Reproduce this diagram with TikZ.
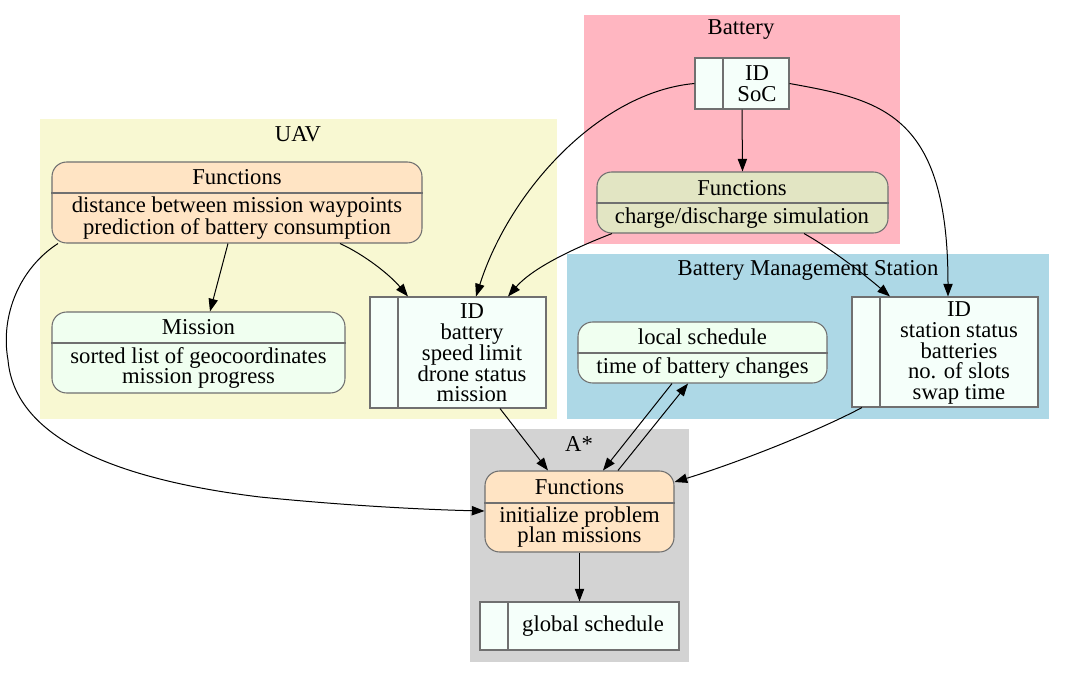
\documentclass[tikz,border=0pt]{standalone}
\usepackage{fontspec}
\setmainfont{Liberation Serif}
\usetikzlibrary{arrows.meta,fit}
\definecolor{clpink}{HTML}{FFB6C1}
\definecolor{clyellow}{HTML}{F8F8D2}
\definecolor{clblue}{HTML}{ADD8E6}
\definecolor{clgray}{HTML}{D3D3D3}
\definecolor{bisque}{HTML}{FFE4C4}
\definecolor{mint}{HTML}{F5FFFA}
\definecolor{honey}{HTML}{F0FFF0}
\definecolor{olivefill}{HTML}{E2E5C3}
\definecolor{bordergray}{HTML}{707070}
\begin{document}
\begin{tikzpicture}[x=0.75pt,y=-0.75pt,
  cluster/.style={draw=none,inner sep=0pt},
  rbox/.style={draw=bordergray,line width=0.8pt,rounded corners=11pt,inner sep=0pt},
  rec/.style={draw=bordergray,line width=0.8pt,fill=mint,inner sep=0pt},
  divider/.style={draw=bordergray,line width=0.8pt},
  txt/.style={font=\fontsize{17pt}{15.6pt}\selectfont,align=center,inner sep=0pt},
  conn/.style={line width=0.75pt,-{Triangle[length=9.5pt,width=7pt]}}]
\useasboundingbox (0,0) rectangle (1065,678);

% clusters
\node[cluster,fill=clpink,fit={(584,15) (900,244)}] (clbat) {};
\node[cluster,fill=clyellow,fit={(40,119) (557,419)}] (cluav) {};
\node[cluster,fill=clblue,fit={(567,254) (1049,419)}] (clbms) {};
\node[cluster,fill=clgray,fit={(470,429) (689,662)}] (clast) {};
\node[txt] (lbat) at (741,30) {Battery};
\node[txt] (luav) at (298,134) {UAV};
\node[txt] (lbms) at (808,270) {Battery Management Station};
\node[txt] (last) at (579,444) {A*};

% Battery
\node[rec,fit={(695,58) (789,109)}] (batr) {};
\draw[divider] (batr.north -| 723,0) -- (batr.south -| 723,0);
\node[txt] (batrt) at (757,84) {ID\\SoC};
\node[rbox,fill=olivefill,fit={(597,172) (888,233)}] (batf) {};
\draw[divider] (batf.west |- 0,203) -- (batf.east |- 0,203);
\node[txt] (batft) at (742,188) {Functions};
\node[txt] (batfb) at (742,218) {charge/discharge simulation};

% UAV
\node[rbox,fill=bisque,fit={(52,162) (422,243)}] (uavf) {};
\draw[divider] (uavf.west |- 0,193) -- (uavf.east |- 0,193);
\node[txt] (uavft) at (237,177) {Functions};
\node[txt] (uavfb) at (237,218) {distance between mission waypoints\\prediction of battery consumption};
\node[rbox,fill=honey,fit={(52,312) (345,393)}] (mission) {};
\draw[divider] (mission.west |- 0,343) -- (mission.east |- 0,343);
\node[txt] (missiont) at (198.5,327) {Mission};
\node[txt] (missionb) at (198.5,368) {sorted list of geocoordinates\\mission progress};
\node[rec,fit={(370,297) (546,408)}] (uavr) {};
\draw[divider] (uavr.north -| 398,0) -- (uavr.south -| 398,0);
\node[txt] (uavrt) at (472,353) {ID\\battery\\speed limit\\drone status\\mission};

% BMS
\node[rbox,fill=honey,fit={(578,322) (827,383)}] (local) {};
\draw[divider] (local.west |- 0,353) -- (local.east |- 0,353);
\node[txt] (localt) at (702.5,337) {local schedule};
\node[txt] (localb) at (702.5,368) {time of battery changes};
\node[rec,fit={(852,297) (1038,407)}] (bmsr) {};
\draw[divider] (bmsr.north -| 880,0) -- (bmsr.south -| 880,0);
\node[txt] (bmsrt) at (959,353) {ID\\station status\\batteries\\no. of slots\\swap time};

% A*
\node[rbox,fill=bisque,fit={(485,471) (674,552)}] (astf) {};
\draw[divider] (astf.west |- 0,503) -- (astf.east |- 0,503);
\node[txt] (astft) at (579.5,487) {Functions};
\node[txt] (astfb) at (579.5,527) {initialize problem\\plan missions};
\node[rec,fit={(480,602) (679,650)}] (gs) {};
\draw[divider] (gs.north -| 508,0) -- (gs.south -| 508,0);
\node[txt] (gst) at (593,626) {global schedule};

% connectors
\draw[conn] (batr.south) -- (batf.north);
\draw[conn] (batr.west) .. controls (600,92) and (510,190) .. (uavr.north -| 476,0);
\draw[conn] (batr.east) .. controls (880,100) and (948,112) .. (bmsr.north -| 948,0);
\draw[conn] (batf.south -| 612,0) .. controls (585,244) and (535,265) .. (uavr.north -| 508,0);
\draw[conn] (batf.south -| 804,0) .. controls (830,248) and (865,275) .. (bmsr.north -| 890,0);
\draw[conn] (uavf.south -| 340,0) .. controls (365,255) and (390,275) .. (uavr.north -| 408,0);
\draw[conn] (uavf.south -| 228,0) -- (mission.north -| 210,0);
\draw[conn] (uavf.south -| 58,0) .. controls (20,268) and (0,315) .. (8,360)
   .. controls (15,440) and (120,480) .. (260,497)
   .. controls (360,507) and (440,510) .. (astf.west |- 0,511);
\draw[conn] (uavr.south -| 500,0) -- (astf.north -| 548,0);
\draw[conn] (local.south -| 672,0) -- (astf.north -| 603,0);
\draw[conn] (astf.north -| 618,0) -- (local.south -| 688,0);
\draw[conn] (bmsr.south -| 862,0) .. controls (820,430) and (740,462) .. (astf.east |- 0,482);
\draw[conn] (astf.south) -- (gs.north);
\end{tikzpicture}
\end{document}
